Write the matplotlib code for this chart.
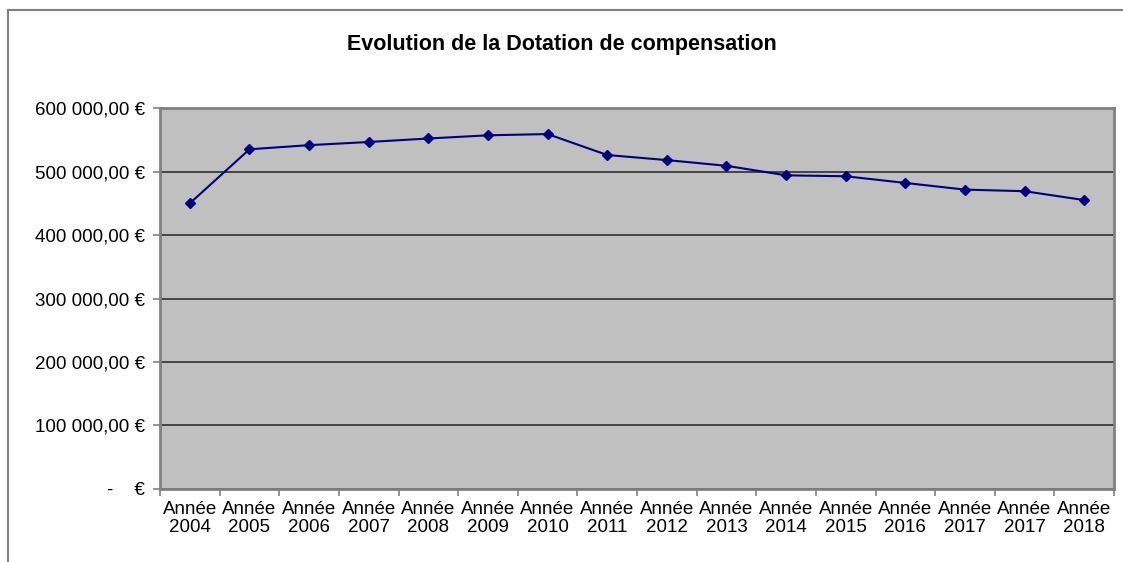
import matplotlib.pyplot as plt
import numpy as np
from matplotlib.lines import Line2D
from matplotlib.ticker import FuncFormatter, MultipleLocator, FixedLocator

plt.rcParams['font.family'] = ['Liberation Sans', 'DejaVu Sans']

# data
years = ['2004', '2005', '2006', '2007', '2008', '2009', '2010', '2011',
         '2012', '2013', '2014', '2015', '2016', '2017', '2017', '2018']
dotation = [450000, 535000, 541500, 546500, 552000, 557000, 559000, 526000,
            518000, 509000, 494000, 492500, 482000, 471500, 469000, 455000]
labels = ['Année\n' + y for y in years]

fig = plt.figure(figsize=(11.23, 5.62), dpi=100)
ax = fig.add_axes([0.1425, 0.1299, 0.8495, 0.6779])

x = np.arange(len(dotation))
ax.plot(x, dotation, color='#000080', lw=1.5, marker='D', ms=5,
        markerfacecolor='#000080', markeredgecolor='#000080', zorder=3)

ax.set_facecolor('#c0c0c0')
ax.set_xlim(-0.5, len(dotation) - 0.5)
ax.set_ylim(0, 600000)

# y axis: accounting style euros
def eur(v, pos):
    if v == 0:
        return '-    €'
    return '{:,.2f}'.format(v).replace(',', ' ').replace('.', ',') + ' €'

ax.yaxis.set_major_locator(MultipleLocator(100000))
ax.yaxis.set_major_formatter(FuncFormatter(eur))
ax.grid(axis='y', color='#3a3a3a', lw=1.3)
ax.set_axisbelow(True)

# x axis: ticks between categories, labels centred
ax.xaxis.set_major_locator(FixedLocator(np.arange(-0.5, len(dotation), 1)))
ax.xaxis.set_minor_locator(FixedLocator(x))
ax.set_xticklabels([], minor=False)
ax.set_xticklabels(labels, minor=True, ha='center', linespacing=1.05)
ax.tick_params(axis='x', which='minor', length=0, pad=9, labelsize=13.5)
ax.tick_params(axis='x', which='major', length=5, color='#808080', width=1.2)
ax.tick_params(axis='y', length=5, color='#808080', width=1.2, pad=6, labelsize=13.5)

for s in ax.spines.values():
    s.set_color('#808080')
    s.set_linewidth(2)

fig.text(0.5, 0.92, 'Evolution de la Dotation de compensation',
         ha='center', va='center', fontsize=15.5, fontweight='bold')

# outer frame of the chart object (left and top edges visible)
fig.add_artist(Line2D([8 / 1123, 8 / 1123], [0, 1 - 10 / 562],
                      transform=fig.transFigure, color='#808080', lw=1.5))
fig.add_artist(Line2D([8 / 1123, 1], [1 - 10 / 562, 1 - 10 / 562],
                      transform=fig.transFigure, color='#808080', lw=1.5))

fig.savefig('out.png', dpi=100)
